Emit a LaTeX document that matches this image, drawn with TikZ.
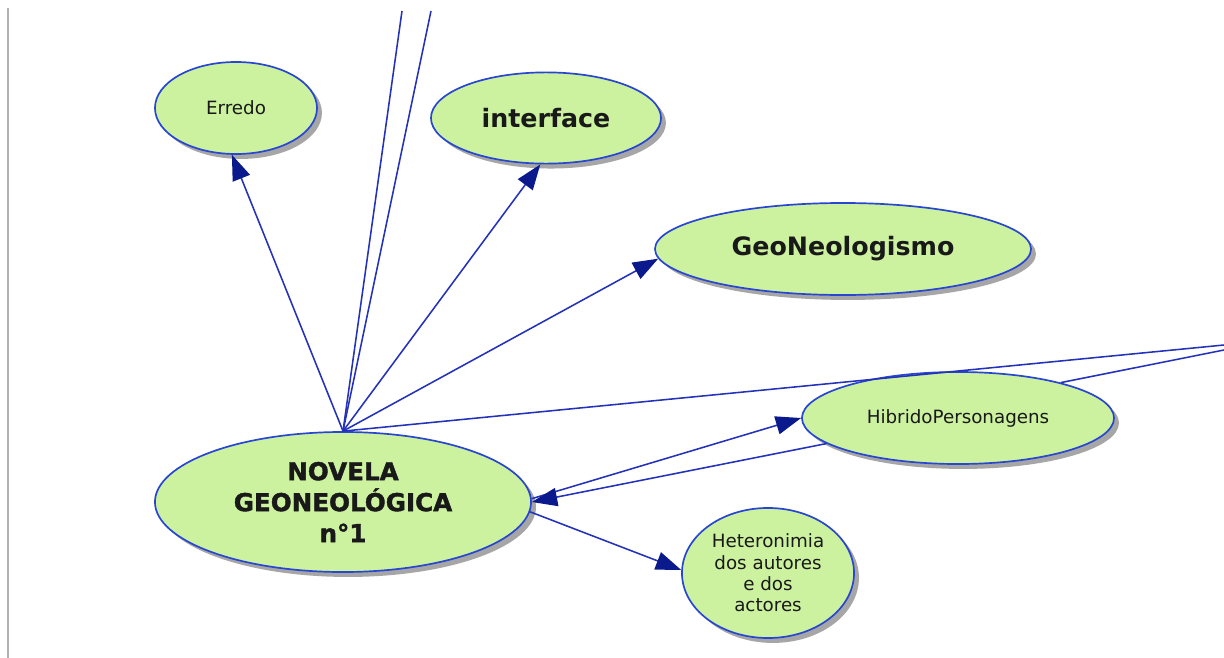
\documentclass[tikz,border=0pt]{standalone}
\usepackage{fontspec}
\setmainfont{DejaVu Sans}
\newfontfamily\heavyfont[FakeBold=1.6]{DejaVu Sans Bold}
\usetikzlibrary{shapes.geometric, arrows.meta, shadows}

\definecolor{conceptfill}{RGB}{204,242,160}
\definecolor{conceptline}{RGB}{40,70,210}
\definecolor{linkline}{RGB}{35,50,185}
\definecolor{tipblue}{RGB}{10,25,140}

\begin{document}
\begin{tikzpicture}[x=0.025cm, y=-0.025cm,
        concept/.style={ellipse, draw=conceptline, line width=1.2pt, fill=conceptfill,
            inner sep=0pt, align=center, text=black!90,
            drop shadow={shadow xshift=3.5pt, shadow yshift=-3.5pt, fill=black!35, opacity=1}},
        small/.style={font=\fontsize{13}{15.2}\selectfont},
        big/.style={font=\fontsize{18}{22}\selectfont\bfseries},
        link/.style={draw=linkline, line width=1.1pt,
            -{Triangle[length=18pt, width=13pt, color=tipblue]}},
        plain/.style={draw=linkline, line width=1.1pt}]

        % Page and frame
        \fill[white] (0,0) rectangle (1224,658);
        \useasboundingbox (0,0) rectangle (1224,658);
        \draw[black!30, line width=0.8pt] (8,8) -- (8,658);

        % Draw the concepts
        \node[concept, small, minimum width=4.05cm, minimum height=2.3cm] (erredo) at (236,108) {Erredo};
        \node[concept, big, minimum width=5.75cm, minimum height=2.28cm] (interface) at (546,118) {interface};
        \node[concept, big, minimum width=9.4cm, minimum height=2.3cm] (geo) at (843,249) {GeoNeologismo};
        \node[concept, font=\fontsize{17.5}{22}\heavyfont, minimum width=9.4cm, minimum height=3.5cm] (novela) at (343,502) {NOVELA\\GEONEOLÓGICA\\n°1};
        \node[concept, small, minimum width=7.8cm, minimum height=2.3cm] (hibrido) at (958,418) {HibridoPersonagens};
        \node[concept, small, minimum width=4.3cm, minimum height=3.25cm] (hetero) at (768,573) {Heteronimia\\dos autores\\e dos\\actores};

        % Loose ends leaving the picture
        \coordinate (upa) at (402,11);
        \coordinate (upb) at (431,11);
        \coordinate (outa) at (1224,345);
        \coordinate (outb) at (1224,350);

        % Draw the links
        \draw[link] (novela.north) -- (erredo.-95);
        \draw[link] (novela.north) -- (interface.-97);
        \draw[link] (novela.north) -- (geo.183);
        \draw[plain] (novela.north) -- (upa);
        \draw[plain] (novela.north) -- (upb);
        \draw[plain] (novela.north) -- (outa);
        \draw[plain] (hibrido.19) -- (outb);
        \draw[link] (novela.1) -- (hibrido.180);
        \draw[link] (hibrido.191) -- (novela.0);
        \draw[link] (novela.-3) -- (hetero.178);

    \end{tikzpicture}
\end{document}
